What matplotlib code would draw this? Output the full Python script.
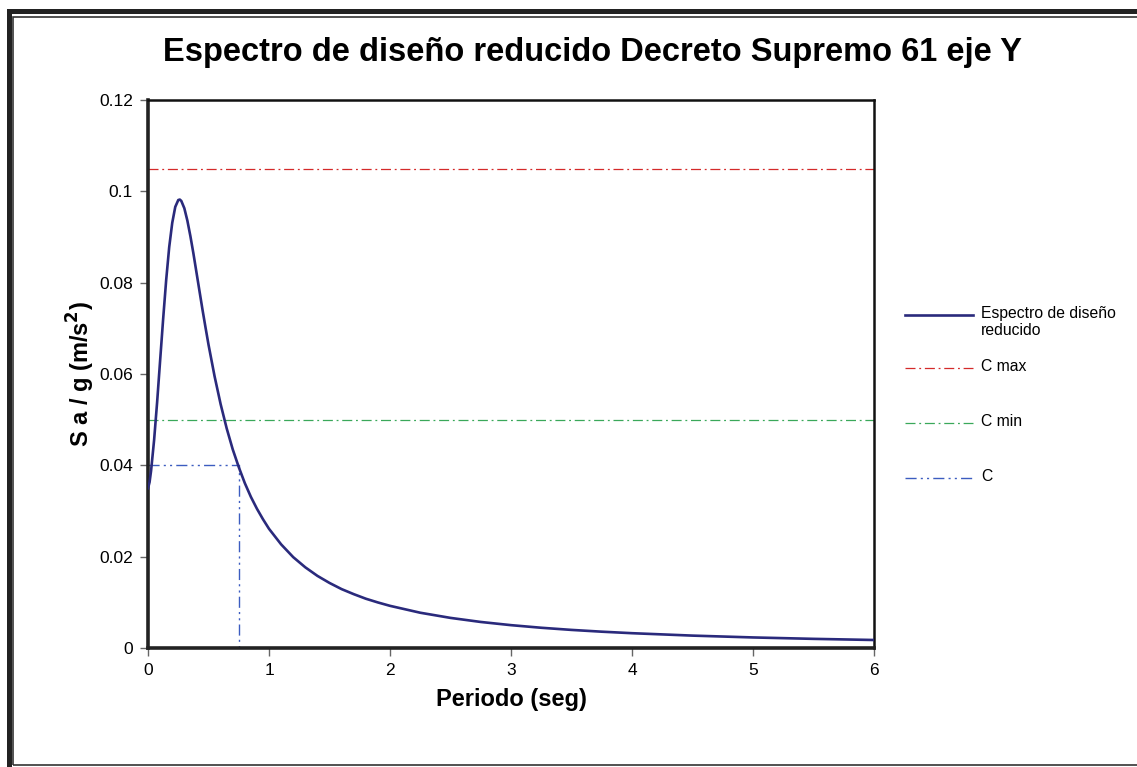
import matplotlib
matplotlib.use('Agg')
import matplotlib.pyplot as plt
from matplotlib.lines import Line2D
from matplotlib.patches import Rectangle
from matplotlib.ticker import FuncFormatter

plt.rcParams['font.family'] = ['Liberation Sans', 'DejaVu Sans']

# periodo (seg) y Sa/g
periodo = [0, 0.0125, 0.025, 0.05, 0.075, 0.1, 0.125, 0.15, 0.175, 0.2, 0.225, 0.25, 0.2625,
           0.275, 0.3, 0.325, 0.35, 0.375, 0.4, 0.425, 0.45, 0.475, 0.5, 0.55, 0.6, 0.65, 0.7,
           0.75, 0.8, 0.85, 0.9, 0.95, 1.0, 1.1, 1.2, 1.3, 1.4, 1.5, 1.6, 1.7, 1.8, 1.9,
           2.0, 2.25, 2.5, 2.75, 3.0, 3.25, 3.5, 3.75, 4.0, 4.5, 5.0, 5.5, 6.0]
sa_g = [0.0350, 0.0363, 0.0388, 0.0455, 0.0538, 0.0630, 0.0721, 0.0806, 0.0878, 0.0931,
        0.0966, 0.0981, 0.0982, 0.0979, 0.0963, 0.0936, 0.0902, 0.0864, 0.0823, 0.0782,
        0.0741, 0.0702, 0.0664, 0.0595, 0.0534, 0.0481, 0.0435, 0.0396, 0.0361, 0.0331,
        0.0305, 0.0282, 0.0261, 0.0227, 0.0199, 0.01767, 0.0158, 0.01425, 0.0129, 0.0118,
        0.0108, 0.00998, 0.00924, 0.00773, 0.0066, 0.00571, 0.00501, 0.00444, 0.00397,
        0.00358, 0.00325, 0.00272, 0.00232, 0.00201, 0.00176]

c_max = 0.105
c_min = 0.05
c_val = 0.04
t_c = 0.75
x_lim = [0, 6]

red = '#d42a2a'
green = '#3aa85a'
blue = '#3c5cc0'
navy = '#2a2a7c'
dashdot = (0, (8, 3, 1.5, 3))
dashdotdot = (0, (8, 3, 1.5, 3, 1.5, 3))

fig = plt.figure(figsize=(11.37, 7.67), dpi=100)
ax = fig.add_axes([0.1302, 0.1551, 0.6385, 0.7145])

ax.plot(periodo, sa_g, color=navy, lw=1.9, zorder=5)
ax.plot(x_lim, [c_max, c_max], color=red, lw=0.9, ls=dashdot)
ax.plot(x_lim, [c_min, c_min], color=green, lw=0.9, ls=dashdot)
ax.plot([0, t_c, t_c], [c_val, c_val, 0], color=blue, lw=1.0, ls=dashdotdot)

ax.set_xlim(x_lim)
ax.set_ylim(0, 0.12)
ax.set_xticks(range(0, 7))
ax.set_yticks([0, 0.02, 0.04, 0.06, 0.08, 0.1, 0.12])
ax.yaxis.set_major_formatter(FuncFormatter(lambda v, p: '{:g}'.format(round(v, 4))))
ax.tick_params(direction='out', length=6, width=1, color='#666666', labelsize=12.5, pad=5)

for s in ['left', 'bottom']:
    ax.spines[s].set_linewidth(2.6)
    ax.spines[s].set_color('#222222')
for s in ['top', 'right']:
    ax.spines[s].set_linewidth(1.8)
    ax.spines[s].set_color('#111111')

ax.set_xlabel('Periodo (seg)', fontsize=17, fontweight='bold', labelpad=7)
ax.set_ylabel('S a / g (m/s$^\\mathbf{2}$)', fontsize=17, fontweight='bold', labelpad=1)
fig.text(0.5215, 0.931, 'Espectro de diseño reducido Decreto Supremo 61 eje Y',
         ha='center', va='center', fontsize=23.5, fontweight='bold')

# leyenda a la derecha
W, H = 1137.0, 767.0
items = [('Espectro de diseño\nreducido', navy, 1.9, '-', 315),
         ('C max', red, 0.9, dashdot, 368),
         ('C min', green, 0.9, dashdot, 423),
         ('C', blue, 1.0, dashdotdot, 478)]
for lab, col, lw, ls, yp in items:
    y = 1 - yp / H
    fig.add_artist(Line2D([905 / W, 973 / W], [y, y], color=col, lw=lw, ls=ls,
                          transform=fig.transFigure))
    fig.text(981 / W, y + 9 / H, lab, ha='left', va='top', fontsize=11.3,
             linespacing=1.2)

# marco del grafico
fig.add_artist(Rectangle((8.5 / W, -0.1), 1.2, 1 - 11 / H + 0.1, transform=fig.transFigure,
                         fill=False, lw=3.6, ec='#222222'))
fig.add_artist(Rectangle((13.5 / W, 2 / H), 1.1, 1 - 16.5 / H - 2 / H,
                         transform=fig.transFigure, fill=False, lw=1.2, ec='#333333'))

fig.savefig('out.png', dpi=100)
